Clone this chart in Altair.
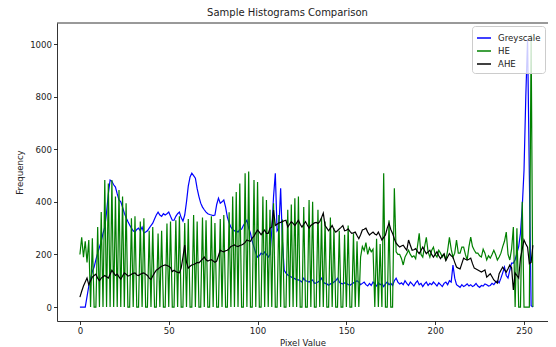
import altair as alt
import pandas as pd

pixel_values = list(range(256))

greyscale = [
    0, 0, 0, 0, 40, 80, 110, 135, 152, 180,
    205, 228, 250, 280, 304, 360, 430, 483, 478, 465,
    456, 430, 407, 400, 380, 357, 340, 325, 312, 300,
    290, 285, 295, 300, 290, 304, 281, 285, 290, 300,
    310, 319, 335, 350, 361, 350, 345, 355, 350, 355,
    361, 345, 330, 330, 345, 355, 361, 340, 327, 350,
    400, 460, 495, 509, 500, 490, 450, 420, 395, 380,
    370, 361, 355, 352, 350, 348, 350, 390, 414, 395,
    400, 407, 380, 342, 320, 304, 295, 290, 290, 285,
    295, 296, 310, 320, 330, 300, 281, 250, 228, 205,
    190, 195, 205, 200, 209, 200, 190, 200, 290, 420,
    509, 290, 300, 452, 250, 140, 129, 122, 118, 114,
    110, 108, 103, 103, 100, 95, 110, 100, 98, 95,
    100, 103, 90, 92, 95, 100, 110, 95, 90, 88,
    83, 88, 90, 95, 100, 110, 95, 90, 88, 92,
    90, 86, 83, 88, 92, 95, 100, 95, 85, 90,
    95, 85, 80, 90, 82, 95, 88, 80, 92, 85,
    90, 78, 88, 95, 85, 90, 82, 100, 110, 95,
    88, 92, 85, 100, 90, 82, 95, 88, 80, 92,
    100, 85, 90, 78, 88, 95, 82, 90, 85, 95,
    88, 80, 92, 85, 78, 90, 95, 85, 100, 95,
    160, 110, 85, 80, 75, 85, 78, 82, 88, 80,
    85, 78, 82, 90, 80, 75, 82, 80, 88, 85,
    80, 82, 90, 85, 95, 100, 92, 110, 130, 152,
    120, 110, 140, 167, 167, 180, 205, 230, 281, 380,
    520, 800, 1020, 500, 5, 0,
]

he = [
    200, 265, 190, 250, 170, 255, 0, 262, 0, 0,
    304, 0, 361, 0, 483, 0, 470, 0, 483, 0,
    420, 0, 445, 0, 420, 0, 395, 0, 0, 338,
    0, 345, 0, 0, 325, 0, 338, 0, 0, 290,
    0, 304, 0, 0, 280, 0, 290, 0, 0, 318,
    0, 325, 0, 0, 330, 0, 345, 0, 0, 320,
    0, 335, 0, 0, 350, 0, 325, 0, 0, 340,
    0, 330, 0, 0, 345, 0, 320, 0, 0, 335,
    0, 350, 0, 0, 360, 0, 420, 0, 437, 0,
    470, 0, 0, 509, 0, 515, 0, 0, 483, 0,
    475, 0, 0, 420, 0, 407, 0, 370, 0, 395,
    0, 0, 350, 0, 333, 0, 0, 370, 0, 390,
    0, 414, 0, 420, 0, 0, 380, 0, 0, 407,
    0, 400, 0, 0, 370, 0, 340, 0, 325, 0,
    0, 340, 0, 300, 0, 0, 290, 0, 0, 275,
    0, 310, 0, 0, 280, 0, 250, 0, 190, 230,
    215, 245, 200, 225, 210, 220, 0, 260, 0, 240,
    0, 509, 0, 0, 330, 0, 0, 452, 210, 200,
    200, 185, 160, 190, 203, 216, 200, 190, 195, 184,
    230, 280, 200, 190, 230, 265, 210, 190, 215, 228,
    200, 190, 216, 205, 190, 200, 177, 215, 265, 220,
    190, 205, 255, 205, 205, 228, 228, 200, 179, 230,
    266, 230, 216, 205, 205, 195, 190, 220, 205, 179,
    195, 186, 200, 216, 200, 179, 190, 205, 230, 250,
    285, 200, 179, 220, 304, 0, 300, 0, 0, 400,
    0, 0, 0, 0, 1035, 0,
]

ahe = [
    38, 60, 80, 95, 110, 85, 100, 114, 120, 125,
    110, 100, 110, 115, 120, 115, 110, 125, 140, 130,
    120, 125, 115, 106, 118, 130, 125, 118, 120, 125,
    128, 130, 122, 120, 125, 128, 130, 125, 120, 110,
    105, 118, 130, 140, 145, 150, 155, 158, 160, 158,
    155, 150, 135, 140, 135, 132, 130, 148, 190, 236,
    170, 148, 155, 160, 162, 165, 170, 168, 175, 182,
    190, 180, 175, 178, 180, 175, 170, 175, 195, 216,
    212, 210, 214, 216, 222, 230, 233, 236, 232, 230,
    234, 236, 240, 246, 255, 252, 250, 262, 270, 282,
    293, 285, 275, 285, 293, 280, 280, 300, 304, 369,
    310, 315, 320, 322, 325, 328, 330, 304, 315, 325,
    318, 310, 320, 330, 315, 304, 315, 325, 312, 300,
    310, 315, 320, 322, 318, 325, 340, 357, 310, 300,
    290, 300, 310, 295, 285, 290, 297, 303, 310, 290,
    292, 297, 288, 280, 282, 285, 272, 260, 275, 293,
    296, 300, 285, 274, 280, 285, 278, 274, 285, 270,
    255, 265, 274, 300, 319, 295, 280, 260, 243, 235,
    228, 232, 235, 225, 216, 255, 235, 216, 218, 222,
    212, 203, 215, 228, 215, 203, 210, 216, 200, 190,
    200, 210, 195, 184, 195, 203, 177, 190, 203, 195,
    190, 170, 152, 148, 145, 165, 186, 182, 179, 182,
    186, 165, 148, 145, 141, 137, 133, 137, 141, 114,
    120, 127, 115, 103, 97, 91, 127, 140, 152, 142,
    133, 146, 160, 150, 65, 130, 120, 110, 186, 220,
    255, 240, 228, 165, 170, 235,
]

series_names = ["Greyscale", "HE", "AHE"]
series_colors = ["#0000ff", "#008000", "#000000"]
x_ticks = [0, 50, 100, 150, 200, 250]
y_ticks = [0, 200, 400, 600, 800, 1000]

W, H = 491, 298
FONT = "DejaVu Sans"

frames = []
for name, vals in zip(series_names, [greyscale, he, ahe]):
    n = min(len(vals), len(pixel_values))
    frames.append(pd.DataFrame({"Pixel Value": pixel_values[:n], "Frequency": vals[:n], "Series": name}))
df = pd.concat(frames, ignore_index=True)

xs = alt.Scale(domain=[-12.9, 263.5], nice=False, zero=False)
ys = alt.Scale(domain=[-53, 1080], nice=False, zero=False)
cs = alt.Scale(domain=series_names, range=series_colors)

def layer_for(name):
    return alt.Chart(df).transform_filter(alt.datum.Series == name).mark_line(
        strokeWidth=1.2, clip=True
    ).encode(
        x=alt.X("Pixel Value:Q", scale=xs,
                axis=alt.Axis(values=x_ticks, title="Pixel Value", grid=False, format="d")),
        y=alt.Y("Frequency:Q", scale=ys,
                axis=alt.Axis(values=y_ticks, title="Frequency", grid=False, format="d")),
        color=alt.Color("Series:N", scale=cs, sort=series_names,
                        legend=alt.Legend(title=None, orient="top-right", offset=3)),
    )

top_spine = alt.Chart(pd.DataFrame({"a": [0]})).mark_rule(color="black", strokeWidth=0.8).encode(
    x=alt.value(0), x2=alt.value(W), y=alt.value(0)
)

chart = alt.layer(
    layer_for("Greyscale"), layer_for("HE"), layer_for("AHE"), top_spine
).properties(
    width=W, height=H,
    title=alt.TitleParams("Sample Histograms Comparison", fontSize=10, font=FONT,
                          fontWeight="normal", color="#222", offset=5, dx=-15),
    autosize=alt.AutoSizeParams(type="none"),
    padding={"left": 49, "top": 15, "right": 0, "bottom": 26},
).configure_view(stroke=None).configure_axis(
    domainColor="black", domainWidth=0.8, tickColor="black", tickWidth=0.8, tickSize=3.5,
    labelFont=FONT, labelFontSize=8.6, labelColor="#222", titleFont=FONT, titleFontSize=8.6,
    titleColor="#222", titleFontWeight="normal", labelPadding=2,
).configure_axisX(titlePadding=3).configure_axisY(titlePadding=5).configure_legend(
    symbolType="stroke", symbolSize=196, symbolStrokeWidth=1.5, labelFont=FONT,
    labelFontSize=8.6, labelColor="#222", fillColor="rgba(255,255,255,0.8)",
    strokeColor="#cccccc", cornerRadius=3, padding=4, rowPadding=0, labelOffset=6,
)

chart.save("out.html", embed_options={"renderer": "svg", "actions": False})
